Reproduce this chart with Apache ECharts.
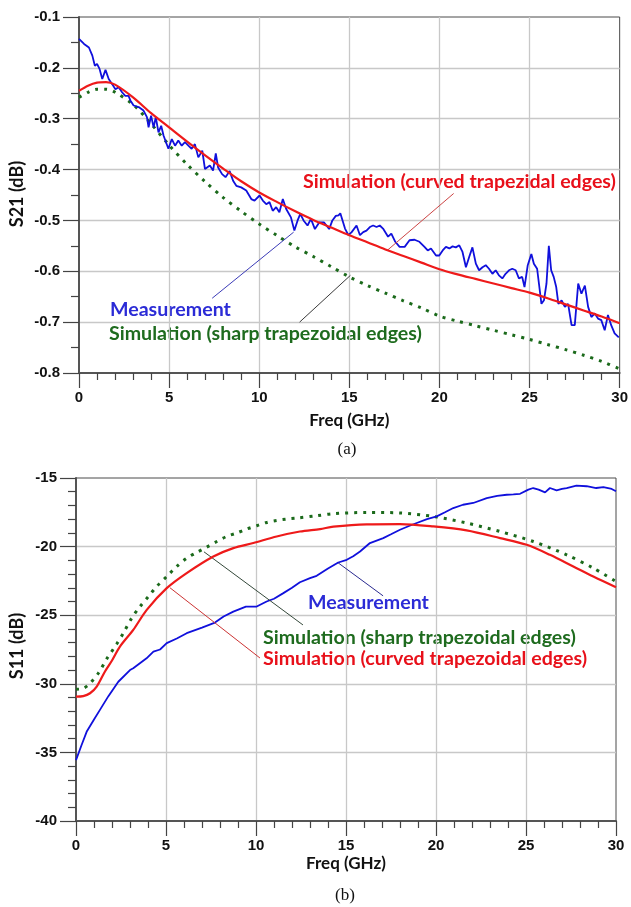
<!DOCTYPE html>
<html><head><meta charset="utf-8">
<script src="https://cdn.jsdelivr.net/npm/echarts@6/dist/echarts.min.js"></script>
<style>html,body{margin:0;padding:0;background:#fff}#c{width:631px;height:907px}</style>
</head><body><div id="c"></div>
<script>
// ---------- DATA (a) S21 ----------
const s21MeasFreq = [0,0.28,0.55,0.74,0.88,1.0,1.14,1.29,1.47,1.65,1.84,2.02,2.2,2.39,2.57,2.75,2.85,3.03,3.31,3.58,3.77,3.86,4.0,4.14,4.26,4.41,4.56,4.69,4.96,5.15,5.33,5.51,5.7,5.88,6.07,6.25,6.43,6.62,6.84,6.99,7.26,7.44,7.59,7.72,7.94,8.13,8.36,8.55,8.73,9.0,9.28,9.56,9.74,10.02,10.2,10.39,10.57,10.75,10.94,11.12,11.31,11.49,11.76,11.95,12.13,12.28,12.46,12.68,12.87,13.09,13.33,13.6,13.88,14.06,14.25,14.4,14.5,14.76,14.95,15.13,15.4,15.59,15.77,15.95,16.14,16.32,16.51,16.69,16.87,17.15,17.33,17.55,17.79,18.07,18.34,18.62,18.89,19.17,19.35,19.53,19.81,19.99,20.18,20.36,20.55,20.73,20.91,21.1,21.28,21.47,21.65,21.83,22.02,22.2,22.39,22.57,22.75,22.94,23.12,23.3,23.49,23.67,23.86,24.04,24.23,24.41,24.59,24.72,24.9,25.1,25.24,25.42,25.51,25.66,25.8,25.94,26.07,26.2,26.34,26.48,26.6,26.78,26.96,27.14,27.33,27.51,27.7,27.88,28.07,28.25,28.43,28.62,28.8,28.98,29.17,29.35,29.53,29.72,29.95];
const s21Meas = [-0.143,-0.153,-0.160,-0.176,-0.196,-0.192,-0.202,-0.222,-0.204,-0.222,-0.232,-0.242,-0.238,-0.248,-0.255,-0.255,-0.264,-0.274,-0.277,-0.284,-0.297,-0.317,-0.294,-0.317,-0.297,-0.327,-0.314,-0.333,-0.359,-0.340,-0.353,-0.343,-0.353,-0.346,-0.353,-0.359,-0.350,-0.376,-0.363,-0.399,-0.392,-0.402,-0.368,-0.396,-0.409,-0.415,-0.403,-0.422,-0.432,-0.435,-0.441,-0.458,-0.461,-0.451,-0.461,-0.468,-0.464,-0.481,-0.474,-0.484,-0.458,-0.477,-0.494,-0.520,-0.500,-0.487,-0.500,-0.510,-0.497,-0.517,-0.504,-0.504,-0.517,-0.500,-0.491,-0.490,-0.486,-0.516,-0.529,-0.523,-0.510,-0.529,-0.523,-0.520,-0.513,-0.510,-0.513,-0.510,-0.516,-0.532,-0.526,-0.542,-0.552,-0.552,-0.539,-0.538,-0.542,-0.552,-0.559,-0.555,-0.569,-0.569,-0.559,-0.552,-0.555,-0.551,-0.553,-0.549,-0.562,-0.592,-0.572,-0.553,-0.585,-0.598,-0.592,-0.588,-0.595,-0.605,-0.598,-0.608,-0.614,-0.605,-0.598,-0.595,-0.598,-0.614,-0.611,-0.631,-0.588,-0.566,-0.585,-0.595,-0.598,-0.664,-0.657,-0.624,-0.550,-0.598,-0.611,-0.631,-0.664,-0.657,-0.670,-0.664,-0.706,-0.706,-0.624,-0.644,-0.628,-0.670,-0.690,-0.683,-0.693,-0.696,-0.716,-0.686,-0.706,-0.722,-0.730];
const s21SimFreq = [0,0.5,1,1.5,2,3,4,5,6,7,8,9,10,11,12,13,14,15,16,17,18,19,20,21,22,23,24,25,26,27,28,29,30];
const s21Curved = [-0.245,-0.235,-0.229,-0.228,-0.233,-0.258,-0.289,-0.317,-0.345,-0.372,-0.398,-0.423,-0.445,-0.464,-0.482,-0.499,-0.514,-0.529,-0.543,-0.557,-0.570,-0.583,-0.596,-0.606,-0.615,-0.624,-0.633,-0.642,-0.653,-0.665,-0.677,-0.689,-0.702];
const s21Sharp = [-0.258,-0.248,-0.242,-0.242,-0.248,-0.272,-0.310,-0.352,-0.390,-0.424,-0.455,-0.482,-0.507,-0.530,-0.552,-0.571,-0.591,-0.611,-0.628,-0.643,-0.658,-0.672,-0.688,-0.698,-0.707,-0.716,-0.725,-0.734,-0.744,-0.754,-0.765,-0.777,-0.792];

// ---------- DATA (b) S11 ----------
const s11MeasFreq = [0,0.3,0.59,1.0,1.33,1.8,2.35,3.0,3.18,3.92,4.3,4.67,5.04,5.6,6.15,7.0,7.72,8.2,8.74,9.44,10.04,10.59,11.0,11.52,12.0,12.44,13.0,13.37,14.0,14.57,15.04,15.4,15.78,16.33,17.07,17.5,18.0,18.5,18.93,19.5,20.04,20.5,20.96,21.5,22.07,22.82,23.4,23.93,24.3,24.67,25.13,25.4,25.7,26.06,26.33,26.7,27.0,27.26,27.8,28.37,28.9,29.3,29.76,30];
const s11Meas = [-35.56,-34.5,-33.5,-32.6,-31.9,-30.9,-29.85,-29.0,-28.87,-28.14,-27.66,-27.5,-27.04,-26.7,-26.31,-25.9,-25.54,-25.1,-24.74,-24.37,-24.37,-24.0,-23.8,-23.39,-23.0,-22.6,-22.3,-22.13,-21.6,-21.16,-20.96,-20.7,-20.36,-19.74,-19.38,-19.1,-18.77,-18.5,-18.28,-18.0,-17.8,-17.5,-17.19,-16.95,-16.82,-16.46,-16.3,-16.22,-16.2,-16.15,-15.85,-15.73,-15.85,-16.05,-15.73,-15.9,-15.8,-15.73,-15.56,-15.6,-15.73,-15.66,-15.8,-15.97];
const s11CurvedFreq = [0,0.4,0.78,1.15,1.61,2.0,2.44,3.18,3.93,5.04,6.15,7.63,8.74,9.85,11.15,12.44,13.56,14.3,16.15,18,19.85,21.7,23.56,25.04,26.33,27.63,28.74,30];
const s11Curved = [-30.94,-30.9,-30.69,-30.21,-29.1,-28.3,-27.29,-26.07,-24.61,-23.03,-21.93,-20.72,-20.11,-19.74,-19.26,-18.9,-18.72,-18.55,-18.38,-18.36,-18.53,-18.82,-19.38,-19.87,-20.6,-21.45,-22.18,-22.96];
const s11SharpFreq = [0,0.41,0.78,1.24,1.7,2.26,2.63,3.09,3.56,4.02,4.48,5.04,5.59,6.15,6.7,7.26,7.82,8.37,8.93,9.48,10.04,10.59,11.15,11.7,12.26,13.37,14.3,16.15,18,19.85,21.7,23.56,25.41,27.26,28.74,30];
const s11Sharp = [-30.4,-30.33,-29.96,-29.23,-28.2,-27.1,-26.31,-25.22,-24.37,-23.64,-22.91,-22.18,-21.45,-20.84,-20.43,-20.04,-19.63,-19.26,-19.01,-18.72,-18.48,-18.24,-18.09,-17.99,-17.92,-17.75,-17.6,-17.51,-17.55,-17.8,-18.28,-18.9,-19.63,-20.6,-21.57,-22.55];

// leader lines (annotation anchors, data coordinates)
const leadS21Meas = [[7.39,-0.653],[11.91,-0.523]];
const leadS21Curved = [[17.10,-0.559],[20.79,-0.447]];
const leadS21Sharp = [[12.24,-0.700],[15.06,-0.608]];
const leadS11Meas = [[14.56,-21.18],[17.06,-23.59]];
const leadS11Sharp = [[7.11,-20.38],[12.61,-25.71]];
const leadS11Curved = [[5.22,-23.0],[10.22,-28.12]];

const zip = (xs, ys) => xs.map((x, i) => [x, ys[i]]);

const BLUE = '#1010dc', RED = '#ee1a1a', GREEN = '#1b6a1b';
const tickFont = {fontFamily:'"Liberation Sans", Arial, sans-serif', fontWeight:'bold', fontSize:15, color:'#111'};
const annFont = '"Lato", "Open Sans", sans-serif';

function xAx(gi, gap) {
  return {
    type:'value', gridIndex:gi, min:0, max:30, interval:5,
    axisLine:{show:true, onZero:false, lineStyle:{color:'#555', width:2}},
    axisTick:{show:true, length:15, lineStyle:{color:'#444', width:1.2}},
    minorTick:{show:true, splitNumber:5, length:7, lineStyle:{color:'#444', width:1.2}},
    splitLine:{show:true, showMinLine:false, showMaxLine:false, lineStyle:{color:'#c8c8c8', width:1.3}},
    axisLabel:Object.assign({margin:17, showMinLabel:true, showMaxLabel:true, hideOverlap:false}, tickFont),
    name:'Freq (GHz)', nameLocation:'middle', nameGap:gap,
    nameTextStyle:{fontFamily:annFont, fontWeight:'bold', fontSize:17, color:'#111', verticalAlign:'top'}
  };
}
function yAx(gi, min, max, interval, split, fmt) {
  return {
    type:'value', gridIndex:gi, min:min, max:max, interval:interval,
    axisLine:{show:true, onZero:false, lineStyle:{color:'#555', width:2}},
    axisTick:{show:true, length:16, lineStyle:{color:'#444', width:1.2}},
    minorTick:{show:true, splitNumber:split, length:8, lineStyle:{color:'#444', width:1.2}},
    splitLine:{show:true, showMinLine:false, showMaxLine:false, lineStyle:{color:'#c8c8c8', width:1.3}},
    axisLabel:Object.assign({margin:19, formatter:fmt, showMinLabel:true, showMaxLabel:true, hideOverlap:false}, tickFont)
  };
}
function lead(pts, color) {
  return {symbol:['none','none'], silent:true, animation:false, label:{show:false},
    lineStyle:{color:color, width:1, type:'solid'},
    data:[[{coord:pts[0]},{coord:pts[1]}]]};
}
function ann(text, x, y, color) {
  return {type:'text', x:x, y:y, silent:true,
    style:{text:text, fill:color, font:'bold 19.6px ' + annFont, align:'left', verticalAlign:'middle'}};
}

const chart = echarts.init(document.getElementById('c'), null, {renderer:'canvas'});
chart.setOption({
  animation:false,
  backgroundColor:'#fff',
  grid:[
    {left:79, top:17, width:544, height:356, show:true, borderColor:'#4a4a4a', borderWidth:1, backgroundColor:'transparent', containLabel:false},
    {left:76, top:478, width:540, height:343, show:true, borderColor:'#4a4a4a', borderWidth:1, backgroundColor:'transparent', containLabel:false}
  ],
  xAxis:[xAx(0, 39), xAx(1, 34)],
  yAxis:[
    yAx(0, -0.8, -0.1, 0.1, 2, v => v.toFixed(1)),
    yAx(1, -40, -15, 5, 5, v => String(Math.round(v)))
  ],
  series:[
    {type:'line', xAxisIndex:0, yAxisIndex:0, data:zip(s21SimFreq, s21Sharp), showSymbol:false, smooth:0.3,
      lineStyle:{color:GREEN, width:3, type:[3,6], cap:'butt'}, markLine:lead(leadS21Sharp, '#3a3a3a'), z:3},
    {type:'line', xAxisIndex:0, yAxisIndex:0, data:zip(s21MeasFreq, s21Meas), showSymbol:false,
      lineStyle:{color:BLUE, width:1.8}, markLine:lead(leadS21Meas, '#3b3bb8'), z:4},
    {type:'line', xAxisIndex:0, yAxisIndex:0, data:zip(s21SimFreq, s21Curved), showSymbol:false, smooth:0.3,
      lineStyle:{color:RED, width:2.2}, markLine:lead(leadS21Curved, '#cc4444'), z:5},
    {type:'line', xAxisIndex:1, yAxisIndex:1, data:zip(s11SharpFreq, s11Sharp), showSymbol:false, smooth:0.3,
      lineStyle:{color:GREEN, width:3, type:[3,6], cap:'butt'}, markLine:lead(leadS11Sharp, '#34483a'), z:3},
    {type:'line', xAxisIndex:1, yAxisIndex:1, data:zip(s11MeasFreq, s11Meas), showSymbol:false,
      lineStyle:{color:BLUE, width:1.8}, markLine:lead(leadS11Meas, '#2a2a90'), z:4},
    {type:'line', xAxisIndex:1, yAxisIndex:1, data:zip(s11CurvedFreq, s11Curved), showSymbol:false, smooth:0.3,
      lineStyle:{color:RED, width:2.2}, markLine:lead(leadS11Curved, '#cc3333'), z:5}
  ],
  graphic:[
    {type:'text', x:17, y:194, rotation:Math.PI/2, silent:true,
      style:{text:'S21 (dB)', fill:'#111', font:'bold 18px ' + annFont, align:'center', verticalAlign:'middle'}},
    {type:'text', x:17, y:646, rotation:Math.PI/2, silent:true,
      style:{text:'S11 (dB)', fill:'#111', font:'bold 18px ' + annFont, align:'center', verticalAlign:'middle'}},
    ann('Simulation (curved trapezidal edges)', 303, 182, '#e8101a'),
    ann('Measurement', 110, 309.5, '#2b2bd6'),
    ann('Simulation (sharp trapezoidal edges)', 109, 334, '#1e6b1e'),
    ann('Measurement', 308, 603, '#2b2bd6'),
    ann('Simulation (sharp trapezoidal edges)', 263, 638, '#1e6b1e'),
    ann('Simulation (curved trapezoidal edges)', 263, 659, '#e8101a'),
    {type:'text', x:347, y:450, silent:true,
      style:{text:'(a)', fill:'#111', font:'17px "Liberation Serif", "Times New Roman", serif', align:'center', verticalAlign:'middle'}},
    {type:'text', x:345, y:896, silent:true,
      style:{text:'(b)', fill:'#111', font:'17px "Liberation Serif", "Times New Roman", serif', align:'center', verticalAlign:'middle'}}
  ]
});
</script></body></html>
